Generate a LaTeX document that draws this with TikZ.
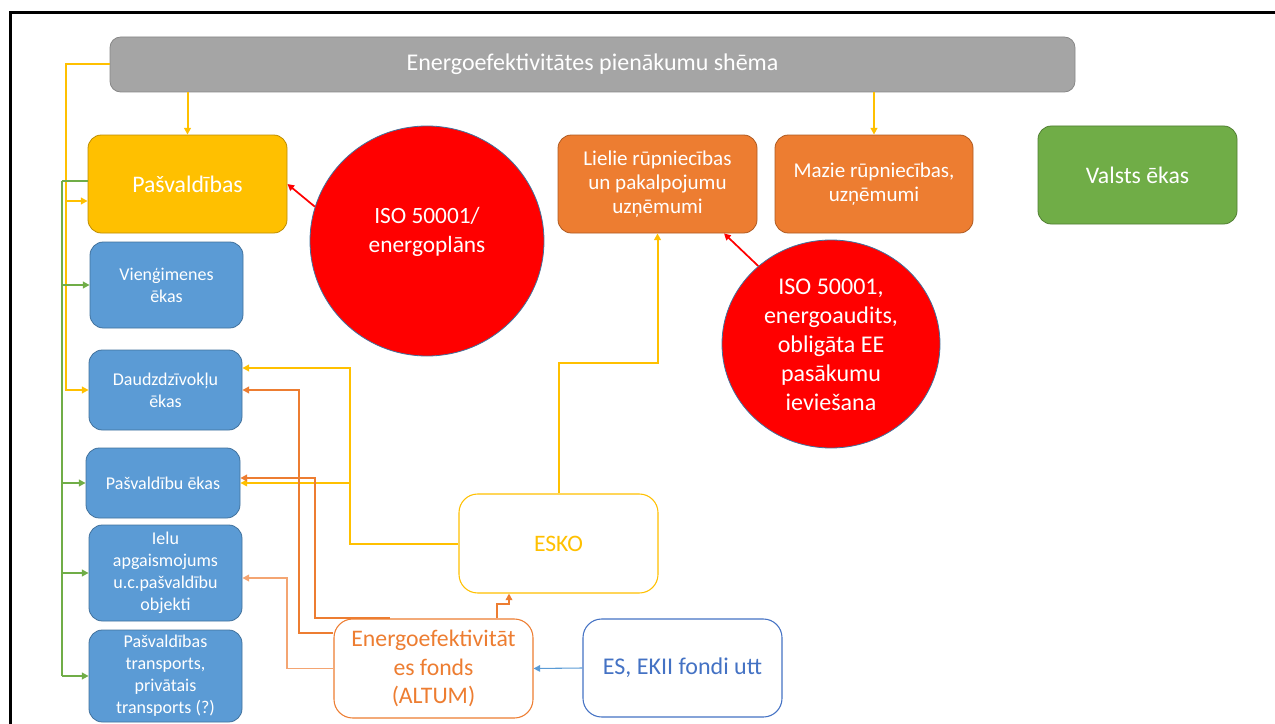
\documentclass[tikz,border=0pt]{standalone}
\usepackage{fontspec}
\setmainfont{Carlito}
\usetikzlibrary{arrows.meta,shapes.geometric}
\definecolor{grayfill}{HTML}{A5A5A5}
\definecolor{grayline}{HTML}{878787}
\definecolor{gold}{HTML}{FFC000}
\definecolor{goldline}{HTML}{BC8C00}
\definecolor{orng}{HTML}{ED7D31}
\definecolor{orngline}{HTML}{AE5A21}
\definecolor{lightorng}{HTML}{F4A572}
\definecolor{grn}{HTML}{70AD47}
\definecolor{grnline}{HTML}{507E32}
\definecolor{blu}{HTML}{5B9BD5}
\definecolor{bluline}{HTML}{41719C}
\definecolor{darkblu}{HTML}{4472C4}
\tikzset{
  card/.style={draw, rounded corners=10pt, align=center, text=white, line width=0.6pt, inner sep=2pt},
  goldcard/.style={card, fill=gold, draw=goldline},
  orngcard/.style={card, fill=orng, draw=orngline},
  bluecard/.style={card, fill=blu, draw=bluline, font=\fontsize{13.5}{16.5}\selectfont},
  outline/.style={draw, rounded corners=14pt, align=center, fill=white, line width=0.8pt},
  bubble/.style={ellipse, draw=bluline, fill=red, inner sep=0pt, line width=0.6pt},
  bubbletext/.style={text=white, align=center, inner sep=0pt},
  tip/.style={-{Triangle[length=5pt,width=5pt]}},
  yl/.style={draw=gold, line width=1.5pt},
  ylthin/.style={draw=gold, line width=0.9pt},
  gr/.style={draw=grn, line width=1.5pt},
  or/.style={draw=orng, line width=1.5pt},
  lor/.style={draw=lightorng, line width=1.1pt},
  bl/.style={draw=blu, line width=0.8pt},
  rd/.style={draw=red, line width=1.3pt}
}
\begin{document}
\begin{tikzpicture}[x=0.75pt,y=-0.75pt]
\useasboundingbox (0,0) rectangle (1275,724);
% outer frame
\draw[line width=2.25pt] (10,726) -- (10,13) -- (1277,13);

% top-level and sector boxes
\node[card, fill=grayfill, draw=grayline, rounded corners=8pt, minimum width=965*0.75pt, minimum height=55*0.75pt,
  font=\fontsize{18}{22}\selectfont] (title) at (592.5,64.5) {Energoefektivitātes pienākumu shēma};
\node[goldcard, minimum width=199*0.75pt, minimum height=98*0.75pt, font=\fontsize{17.8}{21}\selectfont] (pasv) at (187.5,184) {Pašvaldības};
\node[orngcard, minimum width=199*0.75pt, minimum height=98*0.75pt, font=\fontsize{15.8}{18}\selectfont] (lielie) at (657.5,184) {Lielie rūpniecības\\un pakalpojumu\\uzņēmumi};
\node[orngcard, minimum width=198*0.75pt, minimum height=98*0.75pt, font=\fontsize{15.8}{18}\selectfont] (mazie) at (874,184) {Mazie rūpniecības,\\uzņēmumi};
\node[card, fill=grn, draw=grnline, minimum width=199*0.75pt, minimum height=98*0.75pt, font=\fontsize{17.8}{21}\selectfont] (valsts) at (1137.5,175) {Valsts ēkas};

% requirement bubbles
\node[bubble, minimum width=234*0.75pt, minimum height=230*0.75pt] (iso1) at (427,241) {};
\node[bubbletext, font=\fontsize{17.5}{22}\selectfont] (iso1t) at (427,232) {ISO 50001/\\energoplāns};
\node[bubble, minimum width=218*0.75pt, minimum height=208*0.75pt] (iso2) at (831,344) {};
\node[bubbletext, font=\fontsize{18}{21.75}\selectfont] (iso2t) at (831,345) {ISO 50001,\\energoaudits,\\obligāta EE\\pasākumu\\ieviešana};

% municipal sub-sectors
\node[bluecard, minimum width=153*0.75pt, minimum height=86*0.75pt] (vien) at (166.5,285) {Vienģimenes\\ēkas};
\node[bluecard, minimum width=153*0.75pt, minimum height=80*0.75pt] (daudz) at (165.5,390) {Daudzdzīvokļu\\ēkas};
\node[bluecard, minimum width=154*0.75pt, minimum height=70*0.75pt] (pasvek) at (163,483) {Pašvaldību ēkas};
\node[bluecard, minimum width=153*0.75pt, minimum height=96*0.75pt] (ielu) at (165.5,573) {Ielu\\apgaismojums\\u.c.pašvaldību\\objekti};
\node[bluecard, minimum width=153*0.75pt, minimum height=92*0.75pt] (transp) at (165.5,676) {Pašvaldības\\transports,\\privātais\\transports (?)};

% financing
\node[outline, draw=gold, text=gold, minimum width=199*0.75pt, minimum height=99*0.75pt, font=\fontsize{17.7}{21}\selectfont] (esko) at (558.5,543.5) {ESKO};
\node[outline, draw=orng, text=orng, minimum width=199*0.75pt, minimum height=99*0.75pt, font=\fontsize{17.8}{21.4}\selectfont] (fonds) at (433.5,668.5) {Energoefektivitāt\\es fonds\\(ALTUM)};
\node[outline, draw=darkblu, text=darkblu, minimum width=199*0.75pt, minimum height=98*0.75pt, font=\fontsize{18}{21}\selectfont] (es) at (682.5,668) {ES, EKII fondi utt};

% yellow links from the scheme
\draw[yl, tip] (title.south -| pasv.north) -- (pasv.north);
\draw[yl, tip] (title.south -| mazie.north) -- (mazie.north);
\draw[yl, tip] (title.west) -| (66,390) -- (daudz.west);
\draw[yl, tip] (66,201) -- (66,201 -| pasv.west);

% green bus on the left
\coordinate (gtop) at (62,181);
\coordinate (gbot) at (62,676);
\draw[gr] (gtop) -- (gbot);
\draw[gr] (gtop) -- (gtop -| pasv.west);
\draw[gr, tip] (62,285 -| gtop) -- (vien.west);
\draw[gr, tip] (62,483 -| gtop) -- (pasvek.west);
\draw[gr, tip] (62,573 -| gtop) -- (ielu.west);
\draw[gr, tip] (gbot) -- (transp.west);

% ESKO links
\draw[yl, tip] (esko.north) -- ++(0,-130) -| (lielie.south);
\draw[yl, tip] (esko.west) -| (350,368) -- (350,368 -| daudz.east);
\draw[ylthin, tip] (350,483) -- (350,483 -| pasvek.east);

% fund links
\draw[or, tip] (497,0 |- fonds.north) -- ++(0,-14) -| (509,0 |- esko.south);
\draw[or, tip] (390,0 |- fonds.north) -| (315,478) -- (315,478 -| pasvek.east);
\draw[or, tip] (fonds.west |- 0,633) -| (299,390) -- (daudz.east);
\draw[lor, tip] (fonds.west) -| (287,578) -- (287,578 -| ielu.east);
\draw[bl, tip] (es.west) -- (fonds.east);

% requirement arrows
\draw[rd, tip] (iso1.163) -- (pasv.east);
\draw[rd, tip] (iso2.133) -- (724,0 |- lielie.south);
\end{tikzpicture}
\end{document}
